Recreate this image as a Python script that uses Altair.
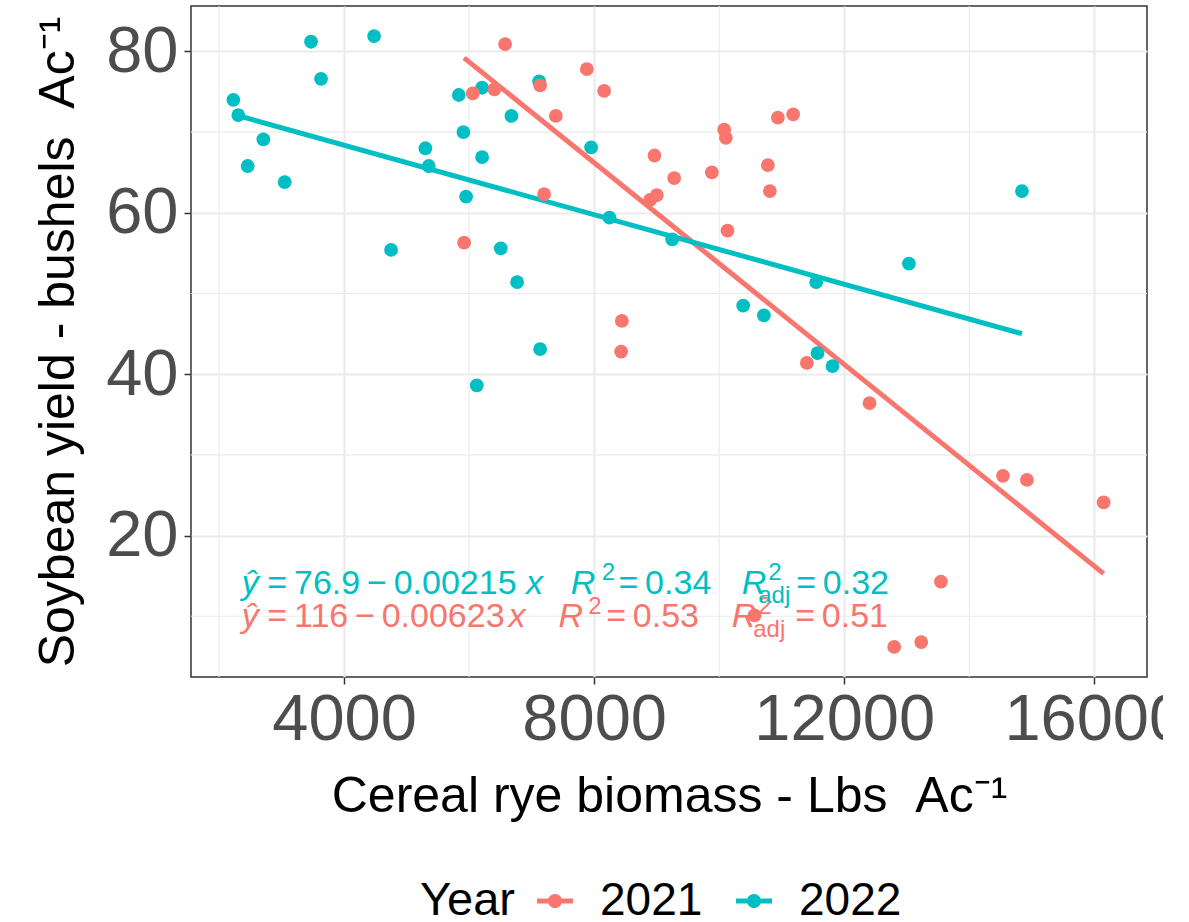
import altair as alt
import pandas as pd

# ---- data ----
years = ["2021", "2022"]
colors = ["#F8766D", "#00BFC4"]

biomass_2021 = [6576, 6059, 6405, 7136, 7387, 7883, 8160, 7200, 8965, 9003, 8896,
                9280, 9883, 10080, 10107, 10779, 10811, 10939, 11184, 10133, 5920,
                8443, 8432, 11403, 12405, 14539, 14923, 16149, 13547, 12800, 13232, 10565]
yield_2021 = [80.9, 74.8, 75.3, 75.8, 72.0, 77.8, 75.1, 62.3, 67.1, 62.2, 61.6,
              64.3, 65.0, 70.3, 69.3, 65.9, 62.7, 71.8, 72.2, 57.8, 56.3,
              46.6, 42.8, 41.4, 36.4, 27.4, 26.9, 24.1, 14.3, 6.2, 6.8, 10.1]

biomass_2022 = [3472, 4480, 3632, 2229, 2309, 2709, 2459, 3051, 5835, 6208, 6677,
                5909, 5301, 5355, 6208, 5952, 4752, 6507, 6768, 7120, 7952, 8245,
                9248, 13035, 14843, 11552, 10384, 10715, 6123, 7136, 11573, 11813]
yield_2022 = [81.2, 81.9, 76.6, 74.0, 72.1, 69.1, 65.8, 63.8, 74.6, 75.5, 72.0,
              70.0, 68.0, 65.8, 66.9, 62.0, 55.4, 55.6, 51.4, 76.3, 68.1, 59.4,
              56.7, 53.7, 62.7, 51.4, 48.5, 47.3, 38.6, 43.1, 42.6, 41.0]

x_ticks = [4000, 8000, 12000, 16000]
y_ticks = [20, 40, 60, 80]
x_minor = [2000, 6000, 10000, 14000]
y_minor = [10, 30, 50, 70]

# equation labels (ggpmisc style), pieces per line
TS = "\u2009"  # thin space
eq_year = ["2022"] * 10 + ["2021"] * 10
eq_text = ["ŷ", f"={TS}76.9{TS}−{TS}0.00215", "x", "R", "2", f"={TS}0.34", "R", "2", "adj", f"={TS}0.32",
           "ŷ", f"={TS}116{TS}−{TS}0.00623", "x", "R", "2", f"={TS}0.53", "R", "2", "adj", f"={TS}0.51"]
eq_kind = ["it", "rm", "it", "it", "sup", "rm", "it", "sup", "sub", "rm"] * 2
eq_x = [2363, 2773, 6912, 7627, 8123, 8389, 10363, 10784, 10624, 11232,
        2363, 2773, 6629, 7429, 7904, 8192, 10203, 10624, 10544, 11216]
eq_y = [12.78] * 10 + [8.63] * 10

# ---- tables ----
pts = pd.DataFrame({
    "biomass": biomass_2022 + biomass_2021,
    "yield": yield_2022 + yield_2021,
    "Year": ["2022"] * len(biomass_2022) + ["2021"] * len(biomass_2021),
})
eq = pd.DataFrame({"Year": eq_year, "txt": eq_text, "kind": eq_kind, "ax": eq_x, "ay": eq_y})

FONT = "Liberation Sans"
xdom = [1552, 16843]
ydom = [2.47, 85.63]

xscale = alt.Scale(domain=xdom, nice=False, zero=False)
yscale = alt.Scale(domain=ydom, nice=False, zero=False)
cscale = alt.Scale(domain=years, range=colors)

XTITLE = "Cereal rye biomass - Lbs \u00a0Ac\u207b\u00b9"
YTITLE = "Soybean yield - bushels \u00a0Ac\u207b\u00b9"

xaxis = alt.Axis(values=x_ticks, format="d", labelFontSize=65, labelColor="#4D4D4D",
                 labelFont=FONT, labelPadding=4, labelFlush=False, labelOverlap=False,
                 labelBound=False, labelLimit=0, tickColor="#333333", tickSize=7, tickWidth=1.5,
                 domain=False, grid=True, gridColor="#EBEBEB", gridWidth=2.2,
                 title=XTITLE, titleFont=FONT, titleLimit=0,
                 titleFontSize=50, titleFontWeight="normal", titleColor="black",
                 titleBaseline="alphabetic", titleY=134)
yaxis = alt.Axis(values=y_ticks, labelFontSize=65, labelColor="#4D4D4D",
                 labelFont=FONT, labelPadding=6, labelFlush=False, labelOverlap=False,
                 labelBound=False, labelLimit=0, tickColor="#333333", tickSize=7, tickWidth=1.5,
                 domain=False, grid=True, gridColor="#EBEBEB", gridWidth=2.2,
                 title=YTITLE, titleFont=FONT, titleLimit=0,
                 titleFontSize=50, titleFontWeight="normal", titleColor="black",
                 titleBaseline="alphabetic", titleX=-118, titleAngle=270)


def X(field):
    return alt.X(field, scale=xscale, axis=xaxis, title=XTITLE)


def Y(field):
    return alt.Y(field, scale=yscale, axis=yaxis, title=YTITLE)


minor_x = alt.Chart(pd.DataFrame({"v": x_minor})).mark_rule(
    color="#EBEBEB", strokeWidth=1.1).encode(x=X("v:Q"))
minor_y = alt.Chart(pd.DataFrame({"v": y_minor})).mark_rule(
    color="#EBEBEB", strokeWidth=1.1).encode(y=Y("v:Q"))

points = alt.Chart(pts).mark_circle(size=190, opacity=1).encode(
    x=X("biomass:Q"),
    y=Y("yield:Q"),
    color=alt.Color("Year:N", scale=cscale, legend=alt.Legend(
        title="Year", orient="none", direction="horizontal", titleOrient="left",
        legendX=229, legendY=872, padding=0,
        symbolType="M-1,-0.14H1V0.14H-1Z M0.39,0A0.39,0.39 0 1 1 -0.39,0A0.39,0.39 0 1 1 0.39,0Z",
        symbolSize=1296, symbolStrokeWidth=0, symbolOpacity=1,
        labelFont=FONT, labelFontSize=46, labelColor="black", labelOffset=22,
        titleFont=FONT, titleFontSize=47, titleFontWeight="normal", titleColor="black",
        titlePadding=17, columnPadding=28, titleBaseline="middle")),
)


def reg_line(year, col):
    return alt.Chart(pts).transform_filter(alt.datum.Year == year).transform_regression(
        "biomass", "yield").mark_line(strokeWidth=5, color=col).encode(
        x=X("biomass:Q"), y=Y("yield:Q"))


def eq_layer(year, col, kind, size, italic, dy):
    return alt.Chart(eq).transform_filter(
        (alt.datum.kind == kind) & (alt.datum.Year == year)).mark_text(
        align="left", baseline="alphabetic", font=FONT, fontSize=size, color=col,
        fontStyle="italic" if italic else "normal", dy=dy).encode(
        x=X("ax:Q"), y=Y("ay:Q"), text="txt:N")


eq_layers = []
for yr, col in zip(years, colors):
    eq_layers += [eq_layer(yr, col, "rm", 34, False, 0), eq_layer(yr, col, "it", 34, True, 0),
                  eq_layer(yr, col, "sup", 24, False, -13.5), eq_layer(yr, col, "sub", 24, False, 9.5)]

lines = [reg_line(yr, col) for yr, col in zip(years, colors)]

chart = alt.layer(minor_x, minor_y, *eq_layers, *lines, points).properties(
    width=956, height=671,
    autosize=alt.AutoSizeParams(type="none"),
    padding={"left": 191, "top": 6, "right": 16, "bottom": 245},
    background="white",
).configure_view(stroke="#333333", strokeWidth=1.5)

chart.save("out.html", embed_options={"renderer": "svg", "actions": False})
